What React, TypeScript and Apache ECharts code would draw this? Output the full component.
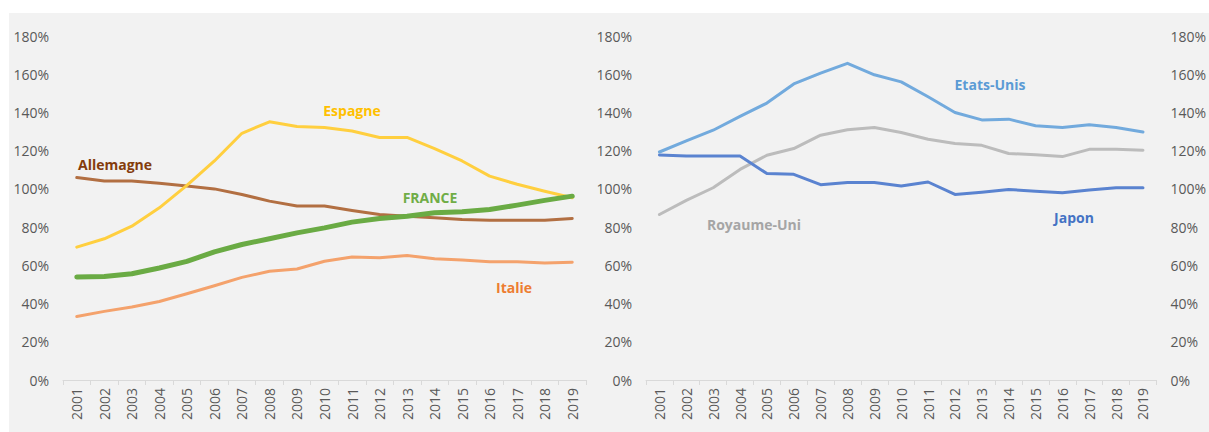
import React, { useEffect, useRef } from "react";
import * as echarts from "echarts";

const years = ["2001","2002","2003","2004","2005","2006","2007","2008","2009","2010","2011","2012","2013","2014","2015","2016","2017","2018","2019"];

const allemagne = [105.9,104.1,104.1,102.9,101.5,100,97.1,93.6,91,91,88.7,86.6,85.7,84.9,84,83.6,83.6,83.6,84.5];
const espagne = [69.5,73.9,80.5,90.1,101.8,114.6,129.1,135.1,132.6,132.1,130.3,126.9,126.9,121.1,114.6,106.7,102.4,98.8,95.4];
const france = [53.9,54.2,55.6,58.6,62.1,67,70.9,73.9,77,79.6,82.6,84.5,85.7,87.5,88,89.2,91.5,94,96.2];
const italie = [33.2,35.9,38.2,41.1,45.1,49.3,53.7,56.9,58.1,62.1,64.4,64,65.1,63.4,62.8,61.9,61.9,61.2,61.6];

const etatsUnis = [119.3,125.1,130.7,137.9,144.9,154.9,160.6,165.7,159.7,156,148.2,140,136.1,136.5,133,132.1,133.5,132.1,129.8];
const royaumeUni = [86.6,94,100.6,110.2,117.6,121.1,128.1,130.9,132.1,129.5,126,123.7,122.8,118.5,117.9,116.9,120.7,120.7,120.2];
const japon = [117.7,117.2,117.2,117.2,108,107.6,102.2,103.3,103.3,101.5,103.6,97.1,98.3,99.7,98.8,98,99.4,100.6,100.6];

const FONT = "Open Sans";
const AXIS_TEXT = "#595959";
const AXIS_LINE = "#d9d9d9";

function yAxis(gridIndex: number, position: "left" | "right") {
  return {
    type: "value",
    gridIndex,
    position,
    min: 0,
    max: 180,
    interval: 20,
    axisLine: { show: false },
    axisTick: { show: false },
    splitLine: { show: false },
    axisLabel: {
      formatter: "{value}%",
      color: AXIS_TEXT,
      fontFamily: FONT,
      fontSize: 14,
      margin: 14,
    },
  };
}

function xAxis(gridIndex: number) {
  return {
    type: "category",
    gridIndex,
    data: years,
    boundaryGap: true,
    axisLine: { show: true, lineStyle: { color: AXIS_LINE, width: 1 } },
    axisTick: { show: true, length: 5, lineStyle: { color: AXIS_LINE } },
    splitLine: { show: false },
    axisLabel: {
      rotate: 90,
      interval: 0,
      margin: 8,
      color: AXIS_TEXT,
      fontFamily: FONT,
      fontSize: 14,
    },
  };
}

function line(name: string, data: number[], color: string, width: number, xi: number, yi: number) {
  return {
    type: "line",
    name,
    data,
    xAxisIndex: xi,
    yAxisIndex: yi,
    symbol: "none",
    smooth: false,
    lineStyle: { color, width, cap: "round", join: "round" },
    itemStyle: { color },
  };
}

function label(text: string, x: number, y: number, color: string) {
  return {
    type: "text",
    x,
    y,
    z: 10,
    style: {
      text,
      fill: color,
      fontFamily: FONT,
      fontWeight: "bold",
      fontSize: 14,
      textAlign: "center",
      textVerticalAlign: "middle",
    },
  };
}

export default function App() {
  const ref = useRef<HTMLDivElement>(null);
  useEffect(() => {
    if (!ref.current) return;
    const chart = echarts.init(ref.current, null, { renderer: "svg" });
    chart.setOption({
      animation: false,
      backgroundColor: "#ffffff",
      grid: [
        { left: 63, right: 623, top: 36, height: 344, containLabel: false },
        { left: 646, right: 48, top: 36, height: 344, containLabel: false },
      ],
      xAxis: [xAxis(0), xAxis(1)],
      yAxis: [yAxis(0, "left"), yAxis(1, "left"), yAxis(1, "right")],
      graphic: [
        {
          type: "rect",
          z: -10,
          silent: true,
          shape: { x: 9, y: 13, width: 1200, height: 419 },
          style: { fill: "#f2f2f2" },
        },
        label("Espagne", 352, 110, "#ffc000"),
        label("Allemagne", 115, 164, "#843c0c"),
        label("FRANCE", 430, 197, "#70ad47"),
        label("Italie", 514, 287, "#ed7d31"),
        label("Etats-Unis", 990, 84, "#5b9bd5"),
        label("Royaume-Uni", 754, 224, "#a5a5a5"),
        label("Japon", 1074, 217, "#4472c4"),
      ],
      series: [
        line("Allemagne", allemagne, "#b26f42", 3, 0, 0),
        line("Espagne", espagne, "#ffcf3f", 3, 0, 0),
        line("Italie", italie, "#f4a26c", 3, 0, 0),
        line("FRANCE", france, "#6aab44", 5, 0, 0),
        line("Royaume-Uni", royaumeUni, "#bcbcbc", 3, 1, 1),
        line("Japon", japon, "#5a83d0", 3, 1, 1),
        line("Etats-Unis", etatsUnis, "#72aadd", 3, 1, 1),
      ],
    });
    return () => chart.dispose();
  }, []);
  return (
    <div
      ref={ref}
      style={{ position: "absolute", left: 0, top: 0, width: 1209, height: 432 }}
    />
  );
}
